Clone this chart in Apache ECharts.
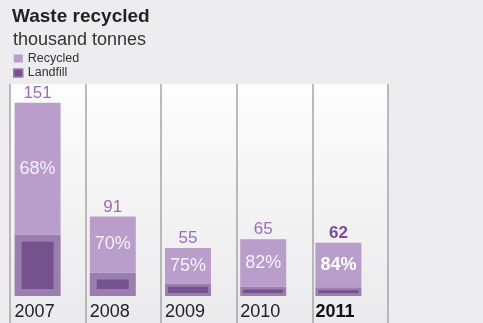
<!DOCTYPE html>
<html>
<head>
<meta charset="utf-8">
<script src="https://cdn.jsdelivr.net/npm/echarts@6/dist/echarts.min.js"></script>
<style>
html, body { margin: 0; padding: 0; background: #ededef; }
#chart { width: 483px; height: 323px; }
</style>
</head>
<body>
<div id="chart"></div>
<script>
// values (thousand tonnes)
var years = ['2007', '2008', '2009', '2010', '2011']
var recycled = [151, 64, 41, 54, 51]
var landfill = [70, 27, 14, 11, 10]
var totals = [221, 91, 55, 65, 61]
var totalLabels = ['151', '91', '55', '65', '62']
var shareLabels = ['68%', '70%', '75%', '82%', '84%']

var font = '"Liberation Sans", Arial, Helvetica, sans-serif'
var last = years.length - 1

var chart = echarts.init(document.getElementById('chart'))
chart.setOption({
  backgroundColor: '#ededef',
  animation: false,
  textStyle: { fontFamily: font },
  title: [
    {
      text: 'Waste recycled',
      left: 12,
      top: 7,
      padding: 0,
      textStyle: { fontSize: 19, fontWeight: 'bold', color: '#222', fontFamily: font }
    },
    {
      text: 'thousand tonnes',
      left: 13,
      top: 31,
      padding: 0,
      textStyle: { fontSize: 18, fontWeight: 'normal', color: '#333', fontFamily: font }
    }
  ],
  legend: {
    orient: 'vertical',
    left: 13,
    top: 52,
    padding: 0,
    icon: 'rect',
    itemWidth: 9,
    itemHeight: 8,
    itemGap: 1.5,
    selectedMode: false,
    textStyle: { fontSize: 12.5, color: '#333', fontFamily: font },
    data: [
      { name: 'Recycled' },
      { name: 'Landfill', itemStyle: { borderWidth: 1.5 } }
    ]
  },
  grid: [
    { left: 10, right: 95, top: 84, bottom: 0 },
    { left: -2, width: 378, top: 86, bottom: 27 }
  ],
  xAxis: [
    {
      gridIndex: 0,
      type: 'category',
      data: years,
      boundaryGap: true,
      axisLine: { show: false },
      axisTick: { show: false },
      axisLabel: { show: false },
      splitLine: {
        show: true,
        lineStyle: { color: '#a6a6a6', width: 1.5 }
      },
      splitArea: {
        show: true,
        areaStyle: {
          color: [new echarts.graphic.LinearGradient(0, 0, 0, 1, [
            { offset: 0, color: '#fdfdfd' },
            { offset: 1, color: '#eaeaec' }
          ])]
        }
      }
    },
    {
      gridIndex: 1,
      type: 'category',
      data: years,
      axisLine: { show: false },
      axisTick: { show: false },
      axisLabel: {
        interval: 0,
        margin: 7,
        formatter: function (v, i) {
          return (i === last ? '{b|' : '{a|') + v + '}'
        },
        rich: {
          a: { width: 46, align: 'left', fontSize: 18, color: '#222', fontFamily: font },
          b: { width: 46, align: 'left', fontSize: 18, fontWeight: 'bold', color: '#111', fontFamily: font }
        }
      }
    }
  ],
  yAxis: [
    { gridIndex: 0, type: 'value', show: false },
    { gridIndex: 1, type: 'value', min: 0, max: 240, show: false }
  ],
  series: [
    {
      name: 'Landfill',
      type: 'bar',
      xAxisIndex: 1,
      yAxisIndex: 1,
      stack: 'waste',
      barWidth: 46,
      itemStyle: { color: '#74528b', borderColor: '#9b7eb0', borderWidth: 3 },
      data: landfill.map(function (v, i) {
        return i < 2 ? { value: v, itemStyle: { borderWidth: 7 } } : v
      })
    },
    {
      name: 'Recycled',
      type: 'bar',
      xAxisIndex: 1,
      yAxisIndex: 1,
      stack: 'waste',
      barWidth: 46,
      itemStyle: { color: '#b99dcb' },
      label: {
        show: true,
        position: 'inside',
        fontSize: 18,
        color: '#f6f1f9',
        fontFamily: font,
        formatter: function (p) { return shareLabels[p.dataIndex] }
      },
      data: recycled.map(function (v, i) {
        return i === last ? { value: v, label: { fontWeight: 'bold', color: '#fff' } } : v
      })
    },
    {
      name: 'Total',
      type: 'bar',
      xAxisIndex: 1,
      yAxisIndex: 1,
      barWidth: 46,
      barGap: '-100%',
      silent: true,
      itemStyle: { color: 'rgba(0,0,0,0)' },
      label: {
        show: true,
        position: 'top',
        distance: 1,
        fontSize: 17,
        color: '#9b6cb9',
        fontFamily: font,
        formatter: function (p) { return totalLabels[p.dataIndex] }
      },
      data: totals.map(function (v, i) {
        return i === last ? { value: v, label: { fontWeight: 'bold', color: '#7d4b9c' } } : v
      })
    }
  ]
})
</script>
</body>
</html>
